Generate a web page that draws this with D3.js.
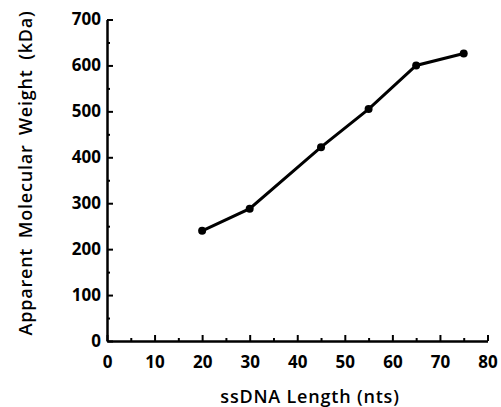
<!DOCTYPE html>
<html>
<head>
<meta charset="utf-8">
<script src="https://cdn.jsdelivr.net/npm/d3@7"></script>
<style>
  body { margin: 0; background: #fff; }
  svg { display: block; }
  .tick text { font-family: "Open Sans", sans-serif; font-weight: 700; font-size: 17px; fill: #000; }
  .axis-label { font-family: "Open Sans", sans-serif; font-weight: 600; font-size: 18px; fill: #000; letter-spacing: 0.8px; }
</style>
</head>
<body>
<div id="wrapper"></div>
<script>
const lengths = [20, 30, 45, 55, 65, 75]
const weights = [240, 288, 422, 505, 600, 626]
const xTicks = [0, 10, 20, 30, 40, 50, 60, 70, 80]
const yTicks = [0, 100, 200, 300, 400, 500, 600, 700]
const xLabel = "ssDNA Length (nts)"
const yLabel = "Apparent Molecular Weight (kDa)"

const data = lengths.map((d, i) => ({ len: d, mw: weights[i] }))

const dimensions = {
  width: 501,
  height: 407,
  margin: { top: 19, right: 13, bottom: 66, left: 107 }
}
dimensions.boundedWidth = dimensions.width - dimensions.margin.left - dimensions.margin.right
dimensions.boundedHeight = dimensions.height - dimensions.margin.top - dimensions.margin.bottom

const wrapper = d3.select('#wrapper')
  .append('svg')
  .attr('width', dimensions.width)
  .attr('height', dimensions.height)

const bounds = wrapper.append('g')
  .attr('transform', `translate(${dimensions.margin.left},${dimensions.margin.top})`)

const xScale = d3.scaleLinear()
  .domain([0, 80])
  .range([0, 380.5])
const yScale = d3.scaleLinear()
  .domain([0, 700])
  .range([dimensions.boundedHeight, dimensions.boundedHeight - 321.5])

// minor ticks
bounds.append('g')
  .attr('transform', `translate(0,${dimensions.boundedHeight})`)
  .call(d3.axisBottom(xScale).tickValues(d3.range(5, 80, 10)).tickSize(-3).tickFormat(''))
  .call(g => g.select('.domain').remove())
  .selectAll('line').attr('stroke', '#000').attr('stroke-width', 2)
bounds.append('g')
  .call(d3.axisLeft(yScale).tickValues(d3.range(50, 700, 100)).tickSize(-3).tickFormat(''))
  .call(g => g.select('.domain').remove())
  .selectAll('line').attr('stroke', '#000').attr('stroke-width', 2)

const xAxis = bounds.append('g')
  .attr('transform', `translate(0,${dimensions.boundedHeight})`)
  .call(d3.axisBottom(xScale).tickValues(xTicks).tickSize(-6).tickSizeOuter(0).tickPadding(15))
xAxis.select('.domain').attr('stroke', '#000').attr('stroke-width', 2.5)
xAxis.selectAll('.tick line').attr('stroke', '#000').attr('stroke-width', 2)

const yAxis = bounds.append('g')
  .call(d3.axisLeft(yScale).tickValues(yTicks).tickSize(-6).tickSizeOuter(0).tickPadding(6))
yAxis.select('.domain').attr('stroke', '#000').attr('stroke-width', 2.5)
yAxis.selectAll('.tick line').attr('stroke', '#000').attr('stroke-width', 2)

const line = d3.line()
  .x(d => xScale(d.len))
  .y(d => yScale(d.mw))

bounds.append('path')
  .datum(data)
  .attr('d', line)
  .attr('fill', 'none')
  .attr('stroke', '#000')
  .attr('stroke-width', 3)

bounds.selectAll('circle')
  .data(data)
  .enter()
  .append('circle')
  .attr('cx', d => xScale(d.len))
  .attr('cy', d => yScale(d.mw))
  .attr('r', 4)
  .attr('fill', '#000')

wrapper.append('text')
  .attr('class', 'axis-label')
  .attr('x', 310)
  .attr('y', 403)
  .attr('text-anchor', 'middle')
  .text(xLabel)

wrapper.append('text')
  .attr('class', 'axis-label')
  .attr('transform', 'translate(32,173) rotate(-90)')
  .attr('text-anchor', 'middle')
  .attr('word-spacing', 4)
  .text(yLabel)
</script>
</body>
</html>
